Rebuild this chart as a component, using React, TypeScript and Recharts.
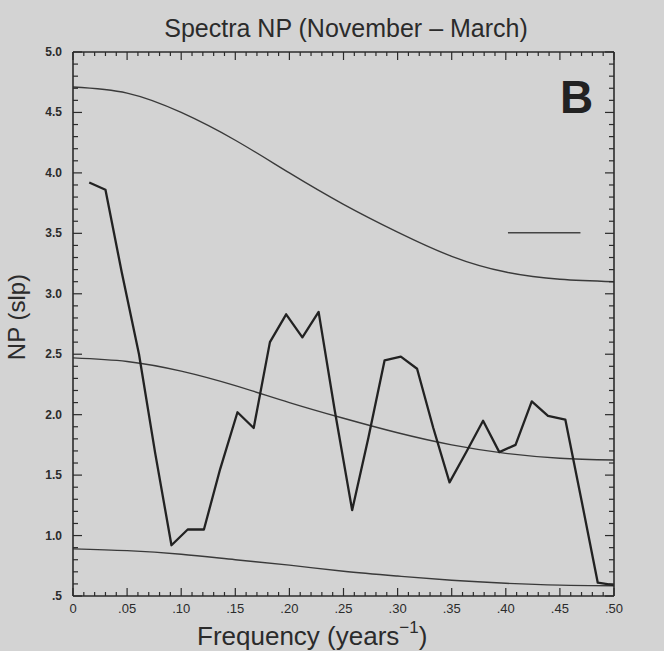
import React from "react";
import { LineChart, Line, XAxis, YAxis, ReferenceLine } from "recharts";

// Frequencies (years^-1) of the raw spectrum estimates
const freq = [
  0.015, 0.030, 0.045, 0.061, 0.076, 0.091, 0.106, 0.121, 0.136, 0.152, 0.167,
  0.182, 0.197, 0.212, 0.227, 0.242, 0.258, 0.273, 0.288, 0.303, 0.318, 0.333,
  0.348, 0.364, 0.379, 0.394, 0.409, 0.424, 0.439, 0.455, 0.470, 0.485, 0.500,
];
// Spectrum NP values
const spectrum = [
  3.92, 3.86, 3.18, 2.5, 1.68, 0.92, 1.05, 1.05, 1.55, 2.02, 1.89,
  2.6, 2.83, 2.64, 2.85, 2.03, 1.21, 1.81, 2.45, 2.48, 2.38, 1.89,
  1.44, 1.7, 1.95, 1.69, 1.75, 2.11, 1.99, 1.96, 1.29, 0.61, 0.59,
];

// Smooth reference curves
const curveFreq = [0, 0.05, 0.1, 0.15, 0.2, 0.25, 0.3, 0.35, 0.4, 0.45, 0.5];
const upperCurve = [4.71, 4.66, 4.5, 4.27, 4.0, 3.74, 3.51, 3.31, 3.18, 3.12, 3.1];
const middleCurve = [2.47, 2.44, 2.36, 2.24, 2.1, 1.97, 1.85, 1.75, 1.68, 1.64, 1.625];
const lowerCurve = [0.89, 0.875, 0.845, 0.8, 0.755, 0.705, 0.665, 0.63, 0.605, 0.59, 0.585];

// Bandwidth bar
const bandX = [0.402, 0.469];
const bandY = 3.505;

// Tick labels
const xLabels = ["0", ".05", ".10", ".15", ".20", ".25", ".30", ".35", ".40", ".45", ".50"];
const yLabels = [".5", "1.0", "1.5", "2.0", "2.5", "3.0", "3.5", "4.0", "4.5", "5.0"];

const xTicks = Array.from({ length: 51 }, (_, i) => i / 100);
const yTicks = Array.from({ length: 46 }, (_, i) => (5 + i) / 10);

const rawData = freq.map((f, i) => ({ f, v: spectrum[i] }));
const upperData = curveFreq.map((f, i) => ({ f, v: upperCurve[i] }));
const middleData = curveFreq.map((f, i) => ({ f, v: middleCurve[i] }));
const lowerData = curveFreq.map((f, i) => ({ f, v: lowerCurve[i] }));

const BG = "#d3d3d3";
const INK = "#2b2b2b";
const FONT = "'Liberation Sans', Arial, sans-serif";

const BottomTick = (props: any) => {
  const { x, y, payload } = props;
  const i = Math.round(payload.value * 100);
  const major = i % 5 === 0;
  return (
    <g>
      <line x1={x} y1={y} x2={x} y2={y - (major ? 8 : 4)} stroke={INK} strokeWidth={1.2} />
      {major && (
        <text x={x} y={y + 17} textAnchor="middle" fontFamily={FONT} fontSize={13} fontWeight={500} fill={INK}>
          {xLabels[i / 5]}
        </text>
      )}
    </g>
  );
};

const TopTick = (props: any) => {
  const { x, y, payload } = props;
  const i = Math.round(payload.value * 100);
  const major = i % 5 === 0;
  return <line x1={x} y1={y} x2={x} y2={y + (major ? 8 : 4)} stroke={INK} strokeWidth={1.2} />;
};

const LeftTick = (props: any) => {
  const { x, y, payload } = props;
  const i = Math.round(payload.value * 10);
  const major = i % 5 === 0;
  return (
    <g>
      <line x1={x} y1={y} x2={x + (major ? 9 : 5)} y2={y} stroke={INK} strokeWidth={1.2} />
      {major && (
        <text x={x - 11} y={y + 4} textAnchor="end" fontFamily={FONT} fontSize={12} fontWeight={700} fill={INK}>
          {yLabels[i / 5 - 1]}
        </text>
      )}
    </g>
  );
};

const RightTick = (props: any) => {
  const { x, y, payload } = props;
  const i = Math.round(payload.value * 10);
  const major = i % 5 === 0;
  return <line x1={x} y1={y} x2={x - (major ? 9 : 5)} y2={y} stroke={INK} strokeWidth={1.2} />;
};

export default function App() {
  return (
    <div style={{ position: "absolute", left: 0, top: 0, width: 664, height: 651, background: BG }}>
      <LineChart
        width={664}
        height={651}
        margin={{ top: 42, right: 40, bottom: 35, left: 33 }}
      >
        <XAxis
          xAxisId="b"
          dataKey="f"
          type="number"
          domain={[0, 0.5]}
          ticks={xTicks}
          interval={0}
          allowDataOverflow
          height={20}
          tickSize={0}
          tickMargin={0}
          tickLine={false}
          axisLine={{ stroke: INK, strokeWidth: 1.6 }}
          tick={<BottomTick />}
        />
        <XAxis
          xAxisId="t"
          orientation="top"
          dataKey="f"
          type="number"
          domain={[0, 0.5]}
          ticks={xTicks}
          interval={0}
          allowDataOverflow
          height={10}
          tickSize={0}
          tickMargin={0}
          tickLine={false}
          axisLine={{ stroke: INK, strokeWidth: 1.6 }}
          tick={<TopTick />}
        />
        <YAxis
          yAxisId="l"
          type="number"
          domain={[0.5, 5]}
          ticks={yTicks}
          interval={0}
          allowDataOverflow
          width={40}
          tickSize={0}
          tickMargin={0}
          tickLine={false}
          axisLine={{ stroke: INK, strokeWidth: 1.6 }}
          tick={<LeftTick />}
        />
        <YAxis
          yAxisId="r"
          orientation="right"
          type="number"
          domain={[0.5, 5]}
          ticks={yTicks}
          interval={0}
          allowDataOverflow
          width={10}
          tickSize={0}
          tickMargin={0}
          tickLine={false}
          axisLine={{ stroke: INK, strokeWidth: 1.6 }}
          tick={<RightTick />}
        />
        <Line
          xAxisId="t"
          yAxisId="r"
          data={upperData}
          dataKey="v"
          type="natural"
          stroke="#3a3a3a"
          strokeWidth={1.4}
          dot={false}
          isAnimationActive={false}
        />
        <Line
          xAxisId="b"
          yAxisId="l"
          data={middleData}
          dataKey="v"
          type="natural"
          stroke="#3a3a3a"
          strokeWidth={1.4}
          dot={false}
          isAnimationActive={false}
        />
        <Line
          xAxisId="b"
          yAxisId="l"
          data={lowerData}
          dataKey="v"
          type="natural"
          stroke="#3a3a3a"
          strokeWidth={1.4}
          dot={false}
          isAnimationActive={false}
        />
        <Line
          xAxisId="b"
          yAxisId="l"
          data={rawData}
          dataKey="v"
          type="linear"
          stroke="#222"
          strokeWidth={2.3}
          strokeLinejoin="round"
          dot={false}
          isAnimationActive={false}
        />
        <ReferenceLine
          xAxisId="b"
          yAxisId="l"
          segment={[
            { x: bandX[0], y: bandY },
            { x: bandX[1], y: bandY },
          ]}
          stroke="#444"
          strokeWidth={1.3}
        />
      </LineChart>
      <svg
        width={664}
        height={651}
        style={{ position: "absolute", left: 0, top: 0, pointerEvents: "none" }}
      >
        <text x={346} y={37} textAnchor="middle" fontFamily={FONT} fontSize={25} fill={INK}>
          Spectra NP (November – March)
        </text>
        <text x={560} y={113} fontFamily={FONT} fontSize={46} fontWeight={700} fill="#222">
          B
        </text>
        <text x={197} y={645} fontFamily={FONT} fontSize={26} fill={INK}>
          Frequency (years
          <tspan fontSize={17} dy={-12}>−1</tspan>
          <tspan dy={12}>)</tspan>
        </text>
        <text
          x={0}
          y={0}
          transform="translate(25 317) rotate(-90)"
          textAnchor="middle"
          fontFamily={FONT}
          fontSize={24}
          fill={INK}
        >
          NP (slp)
        </text>
      </svg>
    </div>
  );
}
